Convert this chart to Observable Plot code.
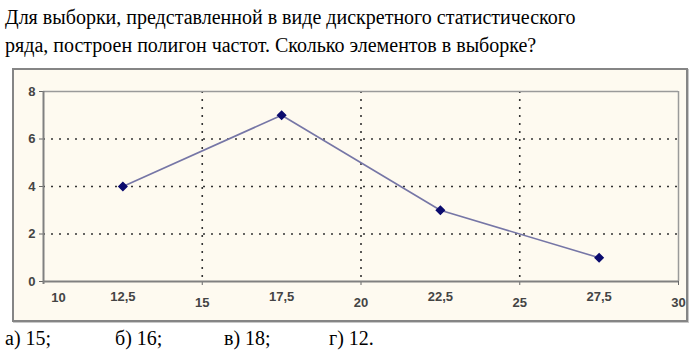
<!DOCTYPE html>
<html>
<head>
<meta charset="utf-8">
<script src="https://cdn.jsdelivr.net/npm/d3@7"></script>
<script src="https://cdn.jsdelivr.net/npm/@observablehq/plot@0.6"></script>
<style>
  #question, #question *, .ans { font-family: "Liberation Serif", serif !important; }
</style>
</head>
<body style="margin:0;padding:0;background:#fff;width:697px;height:355px;overflow:hidden;position:relative;">
<div id="question" style="position:absolute;left:5px;top:3px;font-family:'Liberation Serif';font-size:20px;line-height:28px;color:#000;white-space:nowrap;">Для выборки, представленной в виде дискретного статистического<br>ряда, построен полигон частот. Сколько элементов в выборке?</div>
<div style="position:absolute;left:12px;top:68px;width:672px;height:250px;border:2px solid #858585;background:#FEFAF0;box-shadow:1px 1px 0 #c8c8c8;"></div>
<div id="chart" style="position:absolute;left:0;top:60px;"></div>
<div id="answers"></div>
<script>
// Data
const xValues = [12.5, 17.5, 22.5, 27.5];
const frequencies = [4, 7, 3, 1];

// Tick labels
const yTicks = [0, 2, 4, 6, 8];
const xTicksUpper = [12.5, 17.5, 22.5, 27.5];
const xLabelsUpper = ["12,5", "17,5", "22,5", "27,5"];
const xTicksLower = [15, 20, 25, 30];
const xLabelsLower = ["15", "20", "25", "30"];
const xTickFirst = [10];
const xLabelFirst = ["10"];
const xGrid = [15, 20, 25];
const yGrid = [2, 4, 6];

const answerLabels = ["а) 15;", "б) 16;", "в) 18;", "г) 12."];
const answerLeft = [5, 115, 224, 329];

const points = xValues.map((x, i) => ({x, y: frequencies[i]}));

const labelFont = {fontFamily: "Liberation Sans", fontSize: 13, fontWeight: "bold", fill: "#444"};

const chart = Plot.plot({
  width: 697,
  height: 270,
  marginLeft: 43,
  marginRight: 19,
  marginTop: 31,
  marginBottom: 49,
  style: {background: "transparent", overflow: "visible"},
  x: {domain: [10, 30]},
  y: {domain: [0, 8]},
  marks: [
    Plot.gridY(yGrid, {stroke: "#333", strokeOpacity: 1, strokeWidth: 1.6, strokeDasharray: "2,6"}),
    Plot.gridX(xGrid, {stroke: "#333", strokeOpacity: 1, strokeWidth: 1.6, strokeDasharray: "2,6"}),
    Plot.ruleY([8], {stroke: "#9a9a9a", strokeWidth: 1.5}),
    Plot.ruleX([30], {stroke: "#9a9a9a", strokeWidth: 1.5}),
    Plot.axisY({ticks: yTicks, tickSize: 4, tickPadding: 4, stroke: "#666", label: null, ...labelFont}),
    Plot.axisX({ticks: xTicksLower, tickSize: 4, tickFormat: () => "", stroke: "#666", label: null}),
    Plot.ruleX([10], {stroke: "#808080", strokeWidth: 2, insetBottom: -3}),
    Plot.ruleY([0], {stroke: "#808080", strokeWidth: 2}),
    Plot.text(xTicksUpper, {x: d => d, y: 0, text: (d, i) => xLabelsUpper[i], dy: 15, ...labelFont}),
    Plot.text(xTicksLower, {x: d => d, y: 0, text: (d, i) => xLabelsLower[i], dy: 21, ...labelFont}),
    Plot.text(xTickFirst, {x: d => d, y: 0, text: (d, i) => xLabelFirst[i], dy: 16, dx: 15, ...labelFont}),
    Plot.line(points, {x: "x", y: "y", stroke: "#7676a6", strokeWidth: 1.6}),
    Plot.dot(points, {x: "x", y: "y", symbol: "diamond2", fill: "#0b0b6e", stroke: "#0b0b6e", r: 3.6})
  ]
});
document.getElementById("chart").appendChild(chart);

const ans = document.getElementById("answers");
answerLabels.forEach((t, i) => {
  const s = document.createElement("div");
  s.className = "ans";
  s.style.cssText = "position:absolute;top:327px;font-family:'Liberation Serif';font-size:20px;color:#000;white-space:nowrap;";
  s.style.left = answerLeft[i] + "px";
  s.textContent = t;
  ans.appendChild(s);
});
</script>
</body>
</html>
